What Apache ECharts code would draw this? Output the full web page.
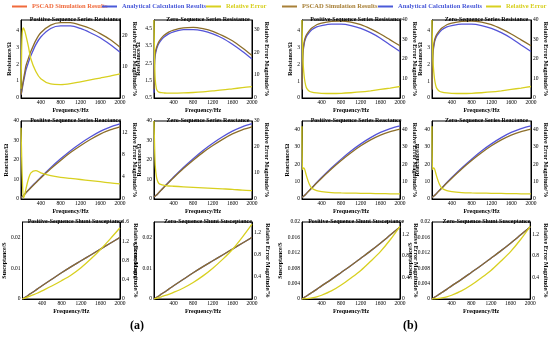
<!DOCTYPE html>
<html><head><meta charset="utf-8">
<script src="https://cdn.jsdelivr.net/npm/echarts@6/dist/echarts.min.js"></script>
<style>html,body{margin:0;padding:0;background:#fff}#c{width:550px;height:339px}</style>
</head><body><div id="c"></div>
<script>
// ---- data ----
const freq = [0, 10, 25, 50, 75, 100, 150, 200, 300, 400, 600, 800, 1000, 1200, 1400, 1600, 1800, 2000];
const seriesNames = ['PSCAD Simulation Results', 'Analytical Calculation Results', 'Relative Error'];
const titles = ['Positive-Sequence Series Resistance', 'Zero-Sequence Series Resistance',
  'Positive-Sequence Series Reactance', 'Zero-Sequence Series Reactance',
  'Positive-Sequence Shunt Susceptance', 'Zero-Sequence Shunt Susceptance'];
const leftNames = ['Resistance/Ω', 'Resistance/Ω', 'Reactance/Ω', 'Reactance/Ω', 'Susceptance/S', 'Susceptance/S'];
const rightName = 'Relative Error Magnitude/%';
const xName = 'Frequency/Hz';
const panelLabels = ['(a)', '(b)'];

// panel (a)
const aPosR_pscad = [0.2, 0.35, 0.65, 1.1, 1.5, 1.9, 2.35, 2.75, 3.4, 3.85, 4.3, 4.45, 4.45, 4.3, 4.1, 3.8, 3.45, 3.0];
const aPosR_calc  = [0.2, 0.3, 0.55, 0.95, 1.3, 1.65, 2.1, 2.5, 3.15, 3.6, 4.1, 4.25, 4.25, 4.1, 3.85, 3.55, 3.15, 2.7];
const aPosR_err   = [3, 12, 21, 22.5, 21.5, 20, 16.5, 12.5, 8.5, 6.2, 4.5, 4.3, 4.6, 5.2, 5.8, 6.4, 7.0, 7.7];
const aZerR_pscad = [1.0, 2.6, 3.1, 3.4, 3.6, 3.75, 3.95, 4.1, 4.3, 4.42, 4.55, 4.58, 4.5, 4.35, 4.1, 3.8, 3.4, 2.95];
const aZerR_calc  = [0.8, 2.4, 2.95, 3.3, 3.5, 3.65, 3.85, 4.0, 4.2, 4.32, 4.45, 4.45, 4.37, 4.2, 3.95, 3.6, 3.2, 2.75];
const aZerR_err   = [34, 20, 8, 4, 3, 2.6, 2.3, 2.2, 2.1, 2.1, 2.2, 2.4, 2.7, 3.1, 3.5, 4.0, 4.5, 5.0];
const aPosX_pscad = [0.5, 0.8, 1.2, 1.8, 2.5, 3.2, 4.5, 5.8, 8.3, 10.8, 15.5, 19.8, 23.8, 27.3, 30.5, 33.3, 35.4, 37.0];
const aPosX_calc  = [0.5, 0.8, 1.2, 1.8, 2.5, 3.2, 4.6, 6.0, 8.6, 11.2, 16.1, 20.6, 24.8, 28.5, 31.8, 34.7, 36.9, 38.5];
const aPosX_err   = [12.8, 9, 4, 0.2, 0.8, 1.8, 3.6, 4.7, 5.1, 4.7, 4.2, 3.9, 3.7, 3.5, 3.3, 3.1, 2.9, 2.7];
const aZerX_pscad = [1.0, 1.2, 1.5, 2.0, 2.6, 3.3, 4.6, 5.9, 8.4, 10.9, 15.6, 19.9, 23.9, 27.4, 30.6, 33.4, 35.5, 37.0];
const aZerX_calc  = [1.0, 1.2, 1.5, 2.0, 2.6, 3.3, 4.7, 6.1, 8.7, 11.3, 16.2, 20.7, 24.9, 28.6, 31.9, 34.8, 37.0, 38.6];
const aZerX_err   = [30, 22, 13, 8.5, 6.8, 6.0, 5.5, 5.3, 5.0, 4.9, 4.7, 4.5, 4.3, 4.1, 3.9, 3.7, 3.4, 3.2];
const aPosB_pscad = [0, 0.0001, 0.00026, 0.0005, 0.0008, 0.001, 0.0016, 0.0021, 0.0032, 0.0043, 0.0064, 0.0085, 0.0105, 0.0124, 0.0143, 0.0162, 0.0181, 0.0200];
const aPosB_calc  = [0, 0.0001, 0.00026, 0.0005, 0.0008, 0.001, 0.0016, 0.0021, 0.0032, 0.0043, 0.0064, 0.0085, 0.0105, 0.0124, 0.0143, 0.0162, 0.0181, 0.0200];
const aPosB_err   = [0, 0.005, 0.01, 0.02, 0.03, 0.04, 0.06, 0.08, 0.12, 0.17, 0.27, 0.38, 0.5, 0.65, 0.83, 1.03, 1.25, 1.48];
const aZerB_pscad = [0, 0.0001, 0.00026, 0.0005, 0.0008, 0.001, 0.0016, 0.0021, 0.0032, 0.0043, 0.0064, 0.0085, 0.0105, 0.0124, 0.0143, 0.0162, 0.0181, 0.0200];
const aZerB_calc  = [0, 0.0001, 0.00026, 0.0005, 0.0008, 0.001, 0.0016, 0.0021, 0.0032, 0.0043, 0.0064, 0.0085, 0.0105, 0.0124, 0.0143, 0.0162, 0.0181, 0.0200];
const aZerB_err   = [0, 0.003, 0.007, 0.013, 0.02, 0.027, 0.04, 0.055, 0.085, 0.12, 0.2, 0.3, 0.42, 0.56, 0.72, 0.9, 1.12, 1.36];
// panel (b)
const bPosR_pscad = [0.5, 2.0, 2.9, 3.4, 3.65, 3.8, 4.0, 4.15, 4.35, 4.45, 4.55, 4.57, 4.5, 4.35, 4.1, 3.8, 3.45, 3.1];
const bPosR_calc  = [0.5, 1.9, 2.8, 3.3, 3.55, 3.7, 3.9, 4.05, 4.22, 4.3, 4.38, 4.38, 4.3, 4.13, 3.88, 3.55, 3.15, 2.76];
const bPosR_err   = [40, 28, 17, 10, 6.5, 4.8, 3.5, 3.0, 2.6, 2.4, 2.3, 2.4, 2.7, 3.1, 3.7, 4.4, 5.1, 5.9];
const bZerR_pscad = [0.5, 2.0, 2.9, 3.4, 3.65, 3.8, 4.0, 4.15, 4.35, 4.45, 4.55, 4.57, 4.5, 4.35, 4.1, 3.8, 3.45, 3.1];
const bZerR_calc  = [0.5, 1.9, 2.8, 3.3, 3.55, 3.7, 3.9, 4.05, 4.22, 4.3, 4.38, 4.38, 4.3, 4.13, 3.88, 3.55, 3.15, 2.76];
const bZerR_err   = [40, 28, 17, 10, 6.5, 4.8, 3.5, 3.0, 2.6, 2.4, 2.3, 2.4, 2.7, 3.1, 3.7, 4.4, 5.1, 5.9];
const bPosX_pscad = [0.8, 1.0, 1.4, 2.0, 2.7, 3.4, 4.9, 6.3, 9.2, 12.0, 17.3, 22.2, 26.7, 30.7, 34.1, 36.9, 38.9, 40.3];
const bPosX_calc  = [0.8, 1.0, 1.4, 2.0, 2.7, 3.5, 5.0, 6.5, 9.5, 12.4, 17.9, 23.0, 27.7, 31.8, 35.4, 38.4, 40.6, 42.2];
const bPosX_err   = [42, 17, 18, 17.5, 15, 12.5, 8.5, 6.2, 4.8, 4.2, 3.7, 3.5, 3.4, 3.3, 3.2, 3.1, 3.0, 2.9];
const bZerX_pscad = [0.8, 1.0, 1.4, 2.0, 2.7, 3.4, 4.9, 6.3, 9.2, 12.0, 17.3, 22.2, 26.7, 30.7, 34.1, 36.9, 38.9, 40.3];
const bZerX_calc  = [0.8, 1.0, 1.4, 2.0, 2.7, 3.5, 5.0, 6.5, 9.5, 12.4, 17.9, 23.0, 27.7, 31.8, 35.4, 38.4, 40.6, 42.2];
const bZerX_err   = [42, 17, 18, 17.5, 15, 12.5, 8.5, 6.2, 4.8, 4.2, 3.7, 3.5, 3.4, 3.3, 3.2, 3.1, 3.0, 2.9];
const bPosB_pscad = [0, 0.00008, 0.0002, 0.00042, 0.00063, 0.00084, 0.00126, 0.00168, 0.0025, 0.0034, 0.0051, 0.0069, 0.0087, 0.0106, 0.0125, 0.0145, 0.0166, 0.0187];
const bPosB_calc  = [0, 0.00008, 0.0002, 0.00042, 0.00063, 0.00084, 0.00126, 0.00168, 0.0025, 0.0034, 0.0051, 0.0069, 0.0087, 0.0106, 0.0125, 0.0145, 0.0166, 0.0187];
const bPosB_err   = [0, 0.001, 0.002, 0.004, 0.006, 0.008, 0.013, 0.02, 0.04, 0.07, 0.15, 0.26, 0.39, 0.53, 0.7, 0.88, 1.1, 1.35];
const bZerB_pscad = [0, 0.00008, 0.0002, 0.00042, 0.00063, 0.00084, 0.00126, 0.00168, 0.0025, 0.0034, 0.0051, 0.0069, 0.0087, 0.0106, 0.0125, 0.0145, 0.0166, 0.0187];
const bZerB_calc  = [0, 0.00008, 0.0002, 0.00042, 0.00063, 0.00084, 0.00126, 0.00168, 0.0025, 0.0034, 0.0051, 0.0069, 0.0087, 0.0106, 0.0125, 0.0145, 0.0166, 0.0187];
const bZerB_err   = [0, 0.001, 0.002, 0.004, 0.006, 0.008, 0.013, 0.02, 0.04, 0.07, 0.15, 0.26, 0.39, 0.53, 0.7, 0.88, 1.1, 1.35];

// left axis ranges [min,max,interval], right axis [max, interval]
const aLeftAxes  = [[0, 4.6, 1], [0.5, 5.0, 1], [0, 40, 10], [0, 40, 10], [0, 0.025, 0.01], [0, 0.025, 0.01]];
const aRightAxes = [[25, 10], [34, 10], [14, 4], [30, 10], [1.6, 0.4], [1.4, 0.4]];
const bLeftAxes  = [[0, 4.63, 1], [0, 4.63, 1], [0, 45, 10], [0, 45, 10], [0, 0.02, 0.004], [0, 0.02, 0.004]];
const bRightAxes = [[40, 10], [40, 10], [45, 10], [45, 10], [1.43, 0.4], [1.43, 0.4]];

const panelData = [
  [[aPosR_pscad, aPosR_calc, aPosR_err], [aZerR_pscad, aZerR_calc, aZerR_err],
   [aPosX_pscad, aPosX_calc, aPosX_err], [aZerX_pscad, aZerX_calc, aZerX_err],
   [aPosB_pscad, aPosB_calc, aPosB_err], [aZerB_pscad, aZerB_calc, aZerB_err]],
  [[bPosR_pscad, bPosR_calc, bPosR_err], [bZerR_pscad, bZerR_calc, bZerR_err],
   [bPosX_pscad, bPosX_calc, bPosX_err], [bZerX_pscad, bZerX_calc, bZerX_err],
   [bPosB_pscad, bPosB_calc, bPosB_err], [bZerB_pscad, bZerB_calc, bZerB_err]]
];
const panelLeft = [aLeftAxes, bLeftAxes];
const panelRight = [aRightAxes, bRightAxes];

// ---- layout / style ----
const FONT = '"Liberation Serif", "Times New Roman", serif';
const C_PSCAD = '#8c6e2a', C_CALC = '#5454d8', C_ERR = '#d8d020';
const colLeft = [[21, 154], [302, 432]];
const colW = [[99, 98], [98, 99]];
const rowTop = [20, 121, 222];
const rowH = [78, 78, 77];
const leftGap = [[6, 8, 9, 9, 14, 14], [6, 6, 9, 9, 16, 16]];
const rightGap = [[8, 8, 8, 8, 10, 10], [8, 8, 8, 8, 10, 10]];

const fmt = v => String(+(+v).toPrecision(8));
const isTick = (min, max, iv) => Math.abs((max - min) / iv - Math.round((max - min) / iv)) < 1e-6;

const grid = [], xAxis = [], yAxis = [], series = [], title = [];
let gi = 0;
for (let p = 0; p < 2; p++) {
  for (let k = 0; k < 6; k++) {
    const r = Math.floor(k / 2), c = k % 2;
    const L = colLeft[p][c], W = colW[p][c], T = rowTop[r], H = rowH[r];
    grid.push({left: L, top: T, width: W, height: H, show: true, borderColor: '#000', borderWidth: 1, backgroundColor: 'transparent'});
    title.push({text: titles[k], left: L + W / 2, top: T - 9, textAlign: 'center',
      textStyle: {fontFamily: FONT, fontSize: 6, fontWeight: 'bold', color: '#000'}});
    xAxis.push({type: 'value', gridIndex: gi, min: 0, max: 2000, interval: 400,
      name: xName, nameLocation: 'middle', nameGap: 9,
      nameTextStyle: {fontFamily: FONT, fontSize: 6, fontWeight: 'bold', color: '#000'},
      axisLine: {lineStyle: {color: '#000', width: 1}}, axisTick: {show: false},
      splitLine: {show: false},
      axisLabel: {fontFamily: FONT, fontSize: 5.5, color: '#000', margin: 2, showMinLabel: false, formatter: fmt}});
    const la = panelLeft[p][k], ra = panelRight[p][k];
    yAxis.push({type: 'value', gridIndex: gi, position: 'left', min: la[0], max: la[1], interval: la[2],
      name: leftNames[k], nameLocation: 'middle', nameGap: leftGap[p][k],
      nameTextStyle: {fontFamily: FONT, fontSize: 6, fontWeight: 'bold', color: '#000'},
      axisLine: {show: true, lineStyle: {color: '#000'}}, axisTick: {show: false}, splitLine: {show: false},
      axisLabel: {fontFamily: FONT, fontSize: 5.5, color: '#000', margin: 2, formatter: fmt,
        showMaxLabel: isTick(la[0], la[1], la[2])}});
    yAxis.push({type: 'value', gridIndex: gi, position: 'right', min: 0, max: ra[0], interval: ra[1],
      name: rightName, nameLocation: 'middle', nameGap: rightGap[p][k], nameRotate: -90,
      nameTextStyle: {fontFamily: FONT, fontSize: 6, fontWeight: 'bold', color: '#000'},
      axisLine: {show: true, lineStyle: {color: '#000'}}, axisTick: {show: false}, splitLine: {show: false},
      axisLabel: {fontFamily: FONT, fontSize: 5.5, color: '#000', margin: 2, formatter: fmt,
        showMaxLabel: isTick(0, ra[0], ra[1])}});
    const d = panelData[p][k];
    const pts = arr => freq.map((f, i) => [f, arr[i]]);
    series.push({name: seriesNames[1], type: 'line', xAxisIndex: gi, yAxisIndex: 2 * gi, data: pts(d[1]),
      symbol: 'none', smooth: 0.3, lineStyle: {color: C_CALC, width: 1.3}, itemStyle: {color: C_CALC}});
    series.push({name: seriesNames[0], type: 'line', xAxisIndex: gi, yAxisIndex: 2 * gi, data: pts(d[0]),
      symbol: 'none', smooth: 0.3, lineStyle: {color: C_PSCAD, width: 1.3}, itemStyle: {color: C_PSCAD}});
    series.push({name: seriesNames[2], type: 'line', xAxisIndex: gi, yAxisIndex: 2 * gi + 1, data: pts(d[2]),
      symbol: 'none', smooth: 0.3, lineStyle: {color: C_ERR, width: 1.3}, itemStyle: {color: C_ERR}});
    gi++;
  }
}

const legendColors = [['#f06a3c', '#4a5ad8', '#d8d020'], ['#a88038', '#4a5ad8', '#d8d020']];
const legendLefts = [[12, 102, 206], [282, 378, 486]];
const legend = [];
for (let p = 0; p < 2; p++) {
  for (let i = 0; i < 3; i++) {
    legend.push({left: legendLefts[p][i], top: 3, icon: 'rect', itemWidth: 15, itemHeight: 2, selectedMode: false,
      padding: 0,
      data: [{name: seriesNames[i], itemStyle: {color: legendColors[p][i]}, textStyle: {color: legendColors[p][i]}}],
      textStyle: {fontFamily: FONT, fontSize: 6.5, fontWeight: 'bold'}});
  }
}

const chart = echarts.init(document.getElementById('c'), null, {renderer: 'canvas'});
chart.setOption({
  animation: false, backgroundColor: '#fff',
  title, grid, xAxis, yAxis, series, legend,
  graphic: panelLabels.map((t, p) => ({type: 'text', left: [130, 403][p], top: 320,
    style: {text: t, font: 'bold 12px ' + FONT, fill: '#000'}}))
});
</script></body></html>
